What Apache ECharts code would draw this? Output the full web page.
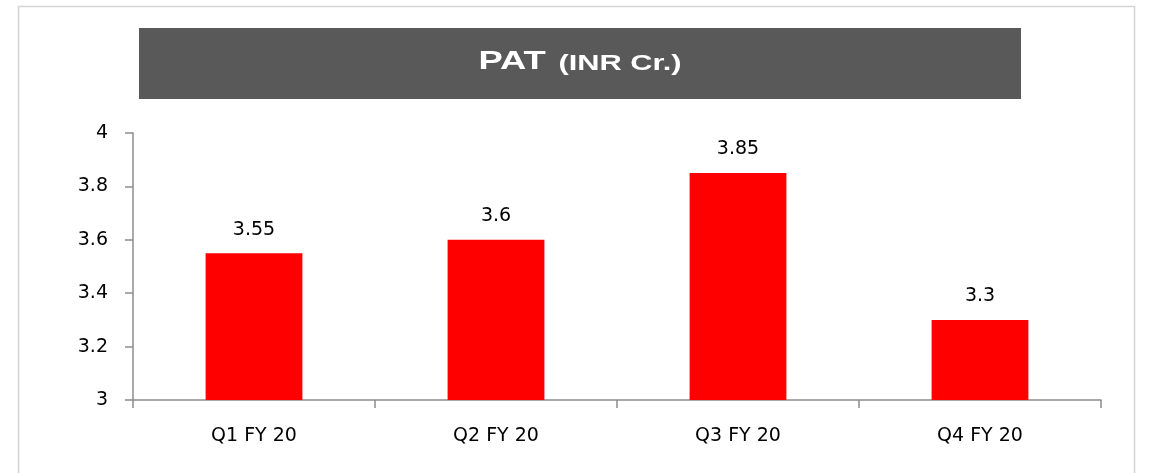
<!DOCTYPE html>
<html>
<head>
<meta charset="utf-8">
<script src="https://cdn.jsdelivr.net/npm/echarts@6/dist/echarts.min.js"></script>
<style>
  html, body { margin: 0; padding: 0; background: #fff; }
  #chart { width: 1153px; height: 473px; }
</style>
</head>
<body>
<div id="chart"></div>
<script>
// data
const categories = ['Q1 FY 20', 'Q2 FY 20', 'Q3 FY 20', 'Q4 FY 20']
const patValues = [3.55, 3.6, 3.85, 3.3]
const titleMain = 'PAT'
const titleUnit = '(INR Cr.)'

const chart = echarts.init(document.getElementById('chart'))
const font = '"DejaVu Sans", sans-serif'

chart.setOption({
  animation: false,
  textStyle: { fontFamily: font },
  graphic: [
    // light frame round the whole chart
    {
      type: 'rect',
      shape: { x: 18.5, y: 6.5, width: 1116, height: 500 },
      style: { fill: 'none', stroke: '#d4d4d4', lineWidth: 1.5 },
      silent: true
    },
    // dark title banner
    {
      type: 'rect',
      shape: { x: 139, y: 28, width: 882, height: 71 },
      style: { fill: '#595959' },
      silent: true
    },
    {
      type: 'text',
      x: 580,
      y: 62,
      scaleX: 1.4,
      style: {
        text: '{a|' + titleMain + '}{b|' + titleUnit + '}',
        align: 'center',
        verticalAlign: 'middle',
        rich: {
          a: { fontFamily: '"Liberation Sans", Arial, sans-serif', fontWeight: 'bold', fontSize: 26, fill: '#fff' },
          b: { fontFamily: '"Liberation Sans", Arial, sans-serif', fontWeight: 'bold', fontSize: 22, fill: '#fff', padding: [3, 0, 0, 9] }
        }
      },
      silent: true
    }
  ],
  grid: { left: 133, right: 52, top: 133, bottom: 73 },
  xAxis: {
    type: 'category',
    data: categories,
    axisLine: { lineStyle: { color: '#8c8c8c', width: 1.5 } },
    axisTick: { show: true, length: 8, lineStyle: { color: '#8c8c8c', width: 1.5 } },
    axisLabel: { color: '#000', fontSize: 19, margin: 27 }
  },
  yAxis: {
    type: 'value',
    min: 3,
    max: 4,
    interval: 0.2,
    axisLine: { show: true, lineStyle: { color: '#8c8c8c', width: 1.5 } },
    axisTick: { show: true, length: 8, lineStyle: { color: '#8c8c8c', width: 1.5 } },
    splitLine: { show: false },
    axisLabel: { color: '#000', fontSize: 19, margin: 25 }
  },
  series: [{
    type: 'bar',
    data: patValues,
    barWidth: '40%',
    itemStyle: { color: '#ff0000' },
    label: {
      show: true,
      position: 'top',
      distance: 14,
      color: '#000',
      fontSize: 19
    }
  }]
})
</script>
</body>
</html>
